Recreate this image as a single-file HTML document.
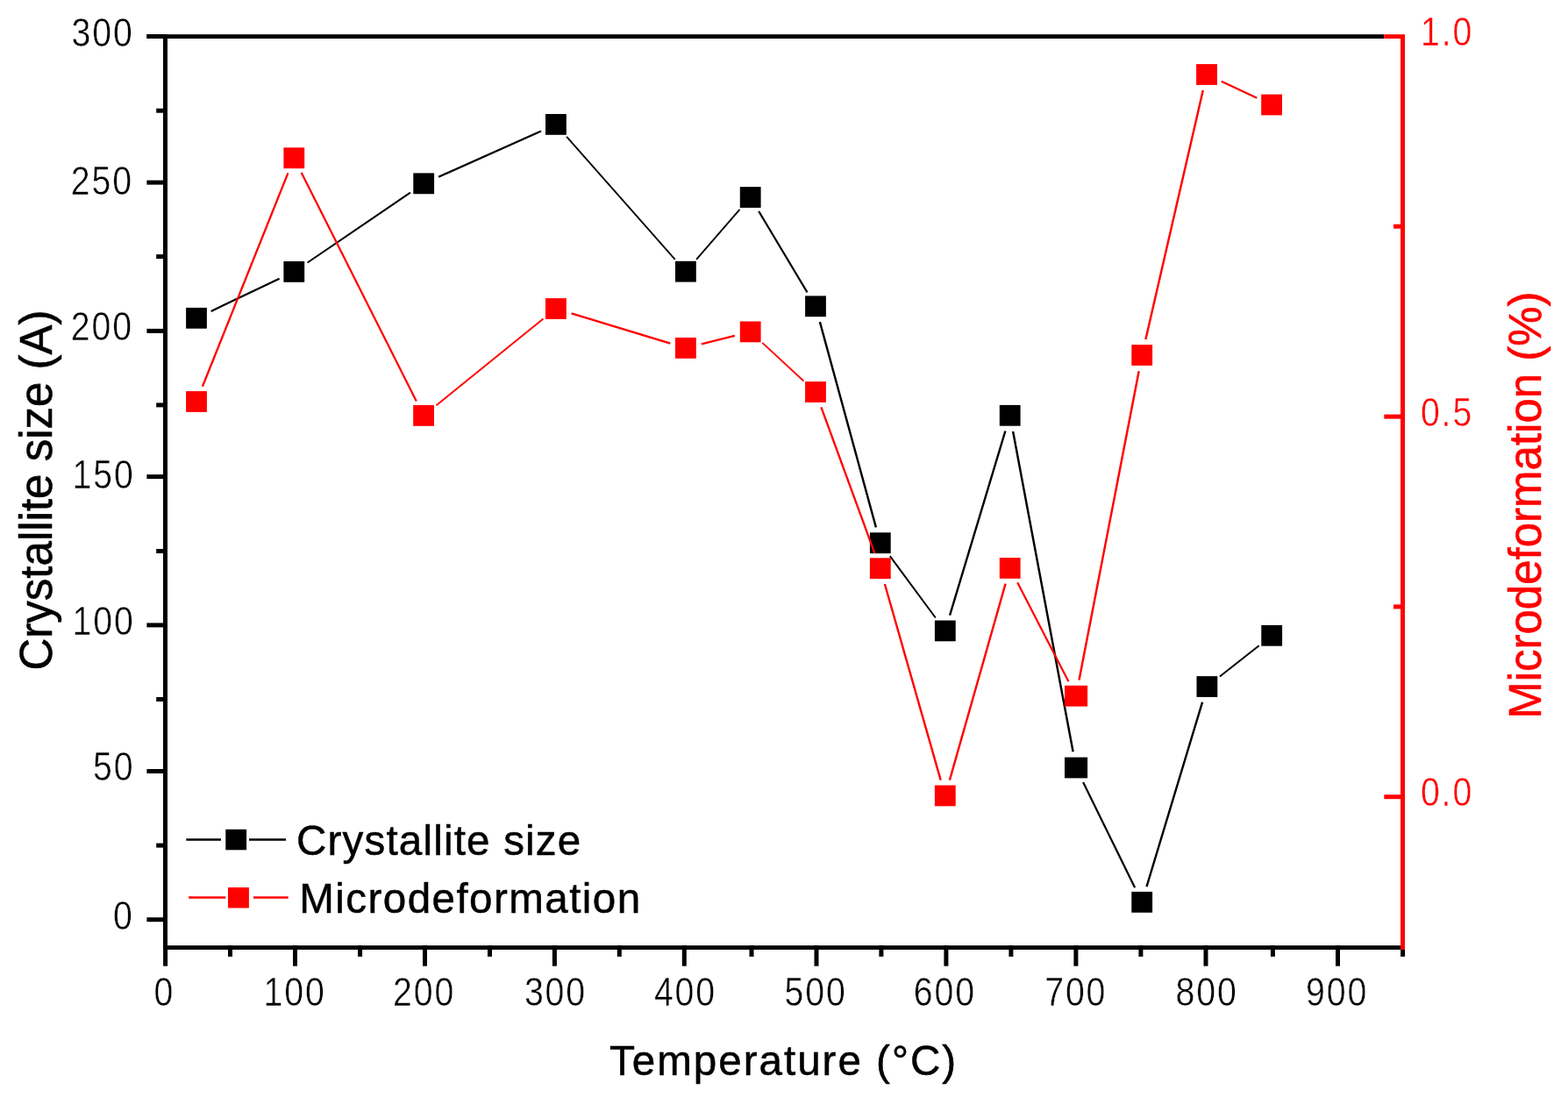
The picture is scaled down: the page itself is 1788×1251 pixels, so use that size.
<!DOCTYPE html>
<html><head><meta charset="utf-8"><title>Crystallite size and microdeformation vs temperature</title>
<style>html,body{margin:0;padding:0;background:#fff;overflow:hidden}svg{display:block;}</style></head>
<body><svg width="1788" height="1251" viewBox="0 0 1788 1251">
<rect width="1788" height="1251" fill="#fff"/>
<rect x="167.4" y="39.2" width="1410.6" height="4.8" fill="#000"/><rect x="186" y="39.2" width="5.0" height="1043.8" fill="#000"/><rect x="186" y="1078.2" width="1411" height="4.8" fill="#000"/><rect x="167.4" y="1046.2" width="18.6" height="5" fill="#000"/><rect x="178.2" y="961.6" width="7.8" height="5" fill="#000"/><rect x="167.4" y="877.0" width="18.6" height="5" fill="#000"/><rect x="178.2" y="795.0" width="7.8" height="5" fill="#000"/><rect x="167.4" y="710.4" width="18.6" height="5" fill="#000"/><rect x="178.2" y="626.0" width="7.8" height="5" fill="#000"/><rect x="167.4" y="541.1" width="18.6" height="5" fill="#000"/><rect x="178.2" y="459.4" width="7.8" height="5" fill="#000"/><rect x="167.4" y="374.9" width="18.6" height="5" fill="#000"/><rect x="178.2" y="290.1" width="7.8" height="5" fill="#000"/><rect x="167.4" y="205.6" width="18.6" height="5" fill="#000"/><rect x="178.2" y="123.7" width="7.8" height="5" fill="#000"/><rect x="167.4" y="39.0" width="18.6" height="5" fill="#000"/><rect x="186.1" y="1078.2" width="5" height="23.5" fill="#000"/><rect x="260.0" y="1078.2" width="5" height="12.7" fill="#000"/><rect x="334.0" y="1078.2" width="5" height="23.5" fill="#000"/><rect x="408.1" y="1078.2" width="5" height="12.7" fill="#000"/><rect x="482.0" y="1078.2" width="5" height="23.5" fill="#000"/><rect x="556.0" y="1078.2" width="5" height="12.7" fill="#000"/><rect x="629.9" y="1078.2" width="5" height="23.5" fill="#000"/><rect x="703.8" y="1078.2" width="5" height="12.7" fill="#000"/><rect x="777.8" y="1078.2" width="5" height="23.5" fill="#000"/><rect x="854.5" y="1078.2" width="5" height="12.7" fill="#000"/><rect x="928.5" y="1078.2" width="5" height="23.5" fill="#000"/><rect x="1002.4" y="1078.2" width="5" height="12.7" fill="#000"/><rect x="1076.4" y="1078.2" width="5" height="23.5" fill="#000"/><rect x="1150.4" y="1078.2" width="5" height="12.7" fill="#000"/><rect x="1224.4" y="1078.2" width="5" height="23.5" fill="#000"/><rect x="1298.4" y="1078.2" width="5" height="12.7" fill="#000"/><rect x="1372.5" y="1078.2" width="5" height="23.5" fill="#000"/><rect x="1448.9" y="1078.2" width="5" height="12.7" fill="#000"/><rect x="1523.0" y="1078.2" width="5" height="23.5" fill="#000"/><rect x="1597.1" y="1083.0" width="5" height="7.9" fill="#000"/><rect x="1597" y="39.2" width="5.0" height="1043.8" fill="#f00"/><rect x="1578.2" y="39.2" width="18.799999999999955" height="4.8" fill="#f00"/><rect x="1578.3" y="906.2" width="18.7" height="5" fill="#f00"/><rect x="1589" y="689.4" width="8.0" height="5" fill="#f00"/><rect x="1578.3" y="472.6" width="18.7" height="5" fill="#f00"/><rect x="1589" y="255.7" width="8.0" height="5" fill="#f00"/>
<g stroke="#000" stroke-linecap="butt"><line x1="240.7" y1="354.9" x2="318.6" y2="317.8" stroke-width="2.26"/><line x1="350.6" y1="299.5" x2="467.9" y2="219.7" stroke-width="2.07"/><line x1="500.1" y1="201.7" x2="617.0" y2="149.5" stroke-width="2.28"/><line x1="646.1" y1="155.8" x2="769.7" y2="295.8" stroke-width="1.87"/><line x1="794.1" y1="295.8" x2="843.5" y2="238.9" stroke-width="1.88"/><line x1="865.2" y1="240.9" x2="920.5" y2="333.4" stroke-width="2.15"/><line x1="934.9" y1="367.1" x2="998.9" y2="601.4" stroke-width="2.41"/><line x1="1014.8" y1="634.1" x2="1066.8" y2="704.5" stroke-width="2.01"/><line x1="1083.1" y1="701.7" x2="1146.4" y2="491.5" stroke-width="2.39"/><line x1="1155.1" y1="492.0" x2="1223.6" y2="857.3" stroke-width="2.46"/><line x1="1235.1" y1="892.1" x2="1294.1" y2="1012.2" stroke-width="2.24"/><line x1="1307.5" y1="1011.1" x2="1371.1" y2="800.7" stroke-width="2.39"/><line x1="1390.9" y1="771.5" x2="1435.7" y2="736.3" stroke-width="1.96"/></g>
<g fill="#000"><rect x="212.1" y="350.9" width="23.8" height="23.8"/><rect x="323.4" y="298.0" width="23.8" height="23.8"/><rect x="471.3" y="197.4" width="23.8" height="23.8"/><rect x="622.0" y="130.0" width="23.8" height="23.8"/><rect x="770.0" y="297.8" width="23.8" height="23.8"/><rect x="843.8" y="213.1" width="23.8" height="23.8"/><rect x="918.1" y="337.4" width="23.8" height="23.8"/><rect x="991.9" y="607.3" width="23.8" height="23.8"/><rect x="1065.9" y="707.5" width="23.8" height="23.8"/><rect x="1139.8" y="461.9" width="23.8" height="23.8"/><rect x="1214.0" y="863.6" width="26.1" height="23.8"/><rect x="1290.3" y="1016.9" width="23.8" height="23.8"/><rect x="1364.5" y="771.1" width="23.8" height="23.8"/><rect x="1438.3" y="712.9" width="23.8" height="23.8"/></g>
<g stroke="#f00" stroke-linecap="butt"><line x1="230.9" y1="440.8" x2="328.4" y2="197.4" stroke-width="2.32"/><line x1="343.6" y1="196.7" x2="474.8" y2="457.4" stroke-width="2.23"/><line x1="497.5" y1="462.3" x2="619.5" y2="363.6" stroke-width="1.94"/><line x1="651.6" y1="357.4" x2="764.2" y2="391.5" stroke-width="2.39"/><line x1="799.8" y1="392.4" x2="837.8" y2="382.9" stroke-width="2.42"/><line x1="869.3" y1="390.9" x2="916.4" y2="434.5" stroke-width="1.84"/><line x1="936.4" y1="464.4" x2="997.4" y2="630.8" stroke-width="2.35"/><line x1="1008.9" y1="666.0" x2="1072.7" y2="889.6" stroke-width="2.40"/><line x1="1082.9" y1="889.6" x2="1146.6" y2="665.7" stroke-width="2.40"/><line x1="1160.2" y1="664.3" x2="1218.5" y2="777.3" stroke-width="2.22"/><line x1="1230.5" y1="775.5" x2="1298.7" y2="423.2" stroke-width="2.45"/><line x1="1306.4" y1="387.0" x2="1371.8" y2="103.0" stroke-width="2.44"/><line x1="1392.8" y1="92.8" x2="1433.3" y2="111.7" stroke-width="2.27"/></g>
<g fill="#f00"><rect x="212.1" y="446.1" width="23.8" height="23.8"/><rect x="323.4" y="168.3" width="23.8" height="23.8"/><rect x="471.2" y="462.0" width="23.8" height="23.8"/><rect x="622.0" y="340.1" width="23.8" height="23.8"/><rect x="770.0" y="385.0" width="23.8" height="23.8"/><rect x="843.8" y="366.5" width="23.8" height="23.8"/><rect x="918.1" y="435.1" width="23.8" height="23.8"/><rect x="991.9" y="636.3" width="23.8" height="23.8"/><rect x="1065.9" y="895.5" width="23.8" height="23.8"/><rect x="1139.8" y="636.0" width="23.8" height="23.8"/><rect x="1214.0" y="781.8" width="26.1" height="23.8"/><rect x="1290.3" y="393.1" width="23.8" height="23.8"/><rect x="1364.1" y="73.1" width="23.8" height="23.8"/><rect x="1438.2" y="107.6" width="23.8" height="23.8"/></g>
<g font-family="Liberation Sans, Arial, sans-serif" fill="#000" stroke="#fff" stroke-width="0.5"><text transform="translate(81.5,52.8) scale(0.85,1)" font-size="46.2" letter-spacing="2.2">300</text><text transform="translate(80.8,221.5) scale(0.85,1)" font-size="46.2" letter-spacing="2.2">250</text><text transform="translate(80.8,387.7) scale(0.85,1)" font-size="46.2" letter-spacing="2.2">200</text><text transform="translate(82.5,557.1) scale(0.85,1)" font-size="46.2" letter-spacing="2.2">150</text><text transform="translate(82.5,724.1) scale(0.85,1)" font-size="46.2" letter-spacing="2.2">100</text><text transform="translate(106.1,890.2) scale(0.85,1)" font-size="46.2" letter-spacing="2.2">50</text><text transform="translate(129.1,1059.7) scale(0.85,1)" font-size="46.2" letter-spacing="2.2">0</text><text transform="translate(175.5,1147.0) scale(0.85,1)" font-size="46.2" letter-spacing="2.2">0</text><text transform="translate(300.6,1147.0) scale(0.85,1)" font-size="46.2" letter-spacing="2.2">100</text><text transform="translate(448.0,1147.0) scale(0.85,1)" font-size="46.2" letter-spacing="2.2">200</text><text transform="translate(597.9,1147.0) scale(0.85,1)" font-size="46.2" letter-spacing="2.2">300</text><text transform="translate(745.9,1147.0) scale(0.85,1)" font-size="46.2" letter-spacing="2.2">400</text><text transform="translate(894.5,1147.0) scale(0.85,1)" font-size="46.2" letter-spacing="2.2">500</text><text transform="translate(1041.8,1147.0) scale(0.85,1)" font-size="46.2" letter-spacing="2.2">600</text><text transform="translate(1191.2,1147.0) scale(0.85,1)" font-size="46.2" letter-spacing="2.2">700</text><text transform="translate(1340.5,1147.0) scale(0.85,1)" font-size="46.2" letter-spacing="2.2">800</text><text transform="translate(1489.0,1147.0) scale(0.85,1)" font-size="46.2" letter-spacing="2.2">900</text></g>
<g font-family="Liberation Sans, Arial, sans-serif" fill="#000" stroke="#000" stroke-width="0.5">
<text x="695.0" y="1225.8" font-size="47.6" letter-spacing="1.973">Temperature (°C)</text>
<text x="338.0" y="975.0" font-size="47.6" letter-spacing="1.167">Crystallite size</text>
<text x="341.3" y="1040.8" font-size="47.6" letter-spacing="1.413">Microdeformation</text>
</g>
<g font-family="Liberation Sans, Arial, sans-serif" fill="#000" stroke="#000" stroke-width="0.6"><text transform="translate(59.2,764.5) rotate(-90)" font-size="51" letter-spacing="0.011">Crystallite size (A)</text></g>
<g font-family="Liberation Sans, Arial, sans-serif" fill="#f00" stroke="#fff" stroke-width="0.5"><text transform="translate(1620.0,52.1) scale(0.85,1)" font-size="46.2" letter-spacing="2.2">1.0</text><text transform="translate(1619.9,485.8) scale(0.85,1)" font-size="46.2" letter-spacing="2.2">0.5</text><text transform="translate(1619.9,919.0) scale(0.85,1)" font-size="46.2" letter-spacing="2.2">0.0</text></g>
<g font-family="Liberation Sans, Arial, sans-serif" fill="#f00" stroke="#f00" stroke-width="0.6"><text transform="translate(1757.0,819.8) rotate(-90)" font-size="51" letter-spacing="-0.005">Microdeformation (%)</text></g>
<g stroke-width="2.7">
<line x1="212.3" y1="957.5" x2="252" y2="957.5" stroke="#000"/>
<line x1="284" y1="957.5" x2="326" y2="957.5" stroke="#000"/>
<line x1="215.1" y1="1023.5" x2="257.3" y2="1023.5" stroke="#f00"/>
<line x1="289" y1="1023.5" x2="328.7" y2="1023.5" stroke="#f00"/>
</g>
<rect x="257.3" y="945.8" width="23.8" height="23.5" fill="#000"/>
<rect x="260" y="1012" width="23.9" height="23.5" fill="#f00"/>
</svg></body></html>
